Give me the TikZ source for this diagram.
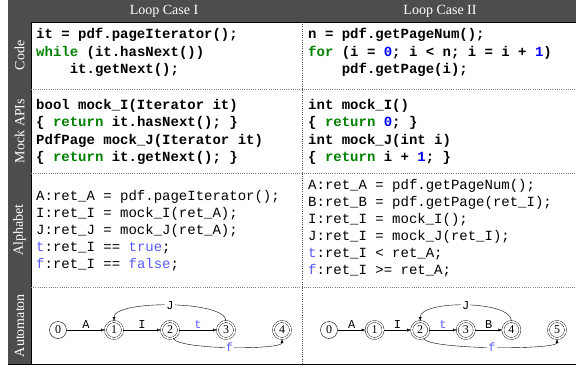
\documentclass[tikz,border=0pt]{standalone}
\usepackage{fontspec}
\setmainfont{Liberation Serif}
\setmonofont{Liberation Mono}
\usepackage{xcolor}
\usepackage{tikz}
\usetikzlibrary{arrows.meta, positioning, automata}
\definecolor{hdrgray}{RGB}{77,77,77}
\definecolor{kwgreen}{RGB}{0,128,0}
\definecolor{numblue}{RGB}{0,0,255}
\definecolor{symblue}{RGB}{90,90,255}
\newcommand{\kw}[1]{\textcolor{kwgreen}{#1}}
\newcommand{\cnum}[1]{\textcolor{numblue}{#1}}
\newcommand{\asym}[1]{\textcolor{symblue}{#1}}
\newcommand{\codeindent}{\hphantom{xxxx}}
\tikzset{
    header/.style={text=white, font=\fontsize{14}{14}\selectfont},
    rowlabel/.style={text=white, rotate=90, font=\fontsize{14}{14}\selectfont},
    codeblock/.style={anchor=north west, inner sep=0pt, align=left, font=\fontsize{14}{17.5}\selectfont\ttfamily\bfseries},
    alphablock/.style={anchor=north west, inner sep=0pt, align=left, font=\fontsize{14}{17}\selectfont\ttfamily},
    rowsep/.style={draw=gray, dash pattern=on 1pt off 1.2pt},
    colsep/.style={draw=black!70, dash pattern=on 1pt off 1.2pt},
    every state/.style={minimum size=17pt, inner sep=0pt, thin, font=\fontsize{12}{12}\selectfont},
    accepting by double/.append style={double distance=1.6pt},
    trans/.style={draw, -{Latex[length=4pt, width=3pt]}, thin},
    edgelabel/.style={font=\fontsize{12}{12}\selectfont\ttfamily, inner sep=1pt}
}

\begin{document}
\begin{tikzpicture}[x=1pt, y=1pt]
    \useasboundingbox (0,0) rectangle (576,368);

    % frame and shading
    \fill[hdrgray] (8,346) rectangle (576,368);
    \fill[hdrgray] (8,4) rectangle (31,368);
    \draw[black] (31,4) -- (31,346) -- (576,346);
    \draw[black] (8,4) -- (576,4);
    \draw[rowsep] (31,279) -- (576,279);
    \draw[rowsep] (31,195) -- (576,195);
    \draw[rowsep] (31,81) -- (576,81);
    \draw[colsep] (302,4) -- (302,346);

    % headers
    \node[header] (caseI) at (164,357) {Loop Case I};
    \node[header] (caseII) at (440,357) {Loop Case II};
    \node[rowlabel] (lblcode) at (19.5,312.5) {Code};
    \node[rowlabel] (lblmock) at (19.5,237) {Mock APIs};
    \node[rowlabel] (lblalpha) at (19.5,138) {Alphabet};
    \node[rowlabel] (lblauto) at (19.5,42.5) {Automaton};

    % code
    \node[codeblock] (codeI) at (36,340) {it = pdf.pageIterator();\\
        \kw{while} (it.hasNext())\\
        \codeindent it.getNext();};
    \node[codeblock] (codeII) at (308,340) {n = pdf.getPageNum();\\
        \kw{for} (i = \cnum{0}; i < n; i = i + \cnum{1})\\
        \codeindent pdf.getPage(i);};

    % mock apis
    \node[codeblock] (mockI) at (36,269) {bool mock\_I(Iterator it)\\
        \{ \kw{return} it.hasNext(); \}\\
        PdfPage mock\_J(Iterator it)\\
        \{ \kw{return} it.getNext(); \}};
    \node[codeblock] (mockII) at (308,269) {int mock\_I()\\
        \{ \kw{return} \cnum{0}; \}\\
        int mock\_J(int i)\\
        \{ \kw{return} i + \cnum{1}; \}};

    % alphabet
    \node[alphablock] (alphaI) at (36,178) {A:ret\_A = pdf.pageIterator();\\
        I:ret\_I = mock\_I(ret\_A);\\
        J:ret\_J = mock\_J(ret\_A);\\
        \asym{t}:ret\_I == \asym{true};\\
        \asym{f}:ret\_I == \asym{false};};
    \node[alphablock] (alphaII) at (308,189) {A:ret\_A = pdf.getPageNum();\\
        B:ret\_B = pdf.getPage(ret\_I);\\
        I:ret\_I = mock\_I();\\
        J:ret\_I = mock\_J(ret\_I);\\
        \asym{t}:ret\_I < ret\_A;\\
        \asym{f}:ret\_I >= ret\_A;};

    % automaton, case I
    \begin{scope}[on grid, node distance=56pt]
        \node[state] (a0) at (58,38) {0};
        \node[state, accepting, right=of a0] (a1) {1};
        \node[state, accepting, right=of a1] (a2) {2};
        \node[state, accepting, right=of a2] (a3) {3};
        \node[state, accepting, right=of a3] (a4) {4};
    \end{scope}
    \draw[trans] (a0) -- node[edgelabel, above] {A} (a1);
    \draw[trans] (a1) -- node[edgelabel, above] {I} (a2);
    \draw[trans] (a2) -- node[edgelabel, above, text=symblue] {t} (a3);
    \draw[trans] (a3) .. controls +(0,30) and +(0,30) .. node[edgelabel, fill=white] {J} (a1);
    \draw[trans] (a2) .. controls +(8,-20) and +(0,-20) .. node[edgelabel, fill=white, text=symblue] {f} (a4);

    % automaton, case II
    \begin{scope}[on grid, node distance=45.6pt]
        \node[state] (b0) at (329,38) {0};
        \node[state, accepting, right=of b0] (b1) {1};
        \node[state, accepting, right=of b1] (b2) {2};
        \node[state, accepting, right=of b2] (b3) {3};
        \node[state, accepting, right=of b3] (b4) {4};
        \node[state, accepting, right=of b4] (b5) {5};
    \end{scope}
    \draw[trans] (b0) -- node[edgelabel, above] {A} (b1);
    \draw[trans] (b1) -- node[edgelabel, above] {I} (b2);
    \draw[trans] (b2) -- node[edgelabel, above, text=symblue] {t} (b3);
    \draw[trans] (b3) -- node[edgelabel, above] {B} (b4);
    \draw[trans] (b4) .. controls +(0,30) and +(0,30) .. node[edgelabel, fill=white] {J} (b2);
    \draw[trans] (b2) .. controls +(8,-20) and +(0,-20) .. node[edgelabel, fill=white, text=symblue] {f} (b5);

\end{tikzpicture}
\end{document}
